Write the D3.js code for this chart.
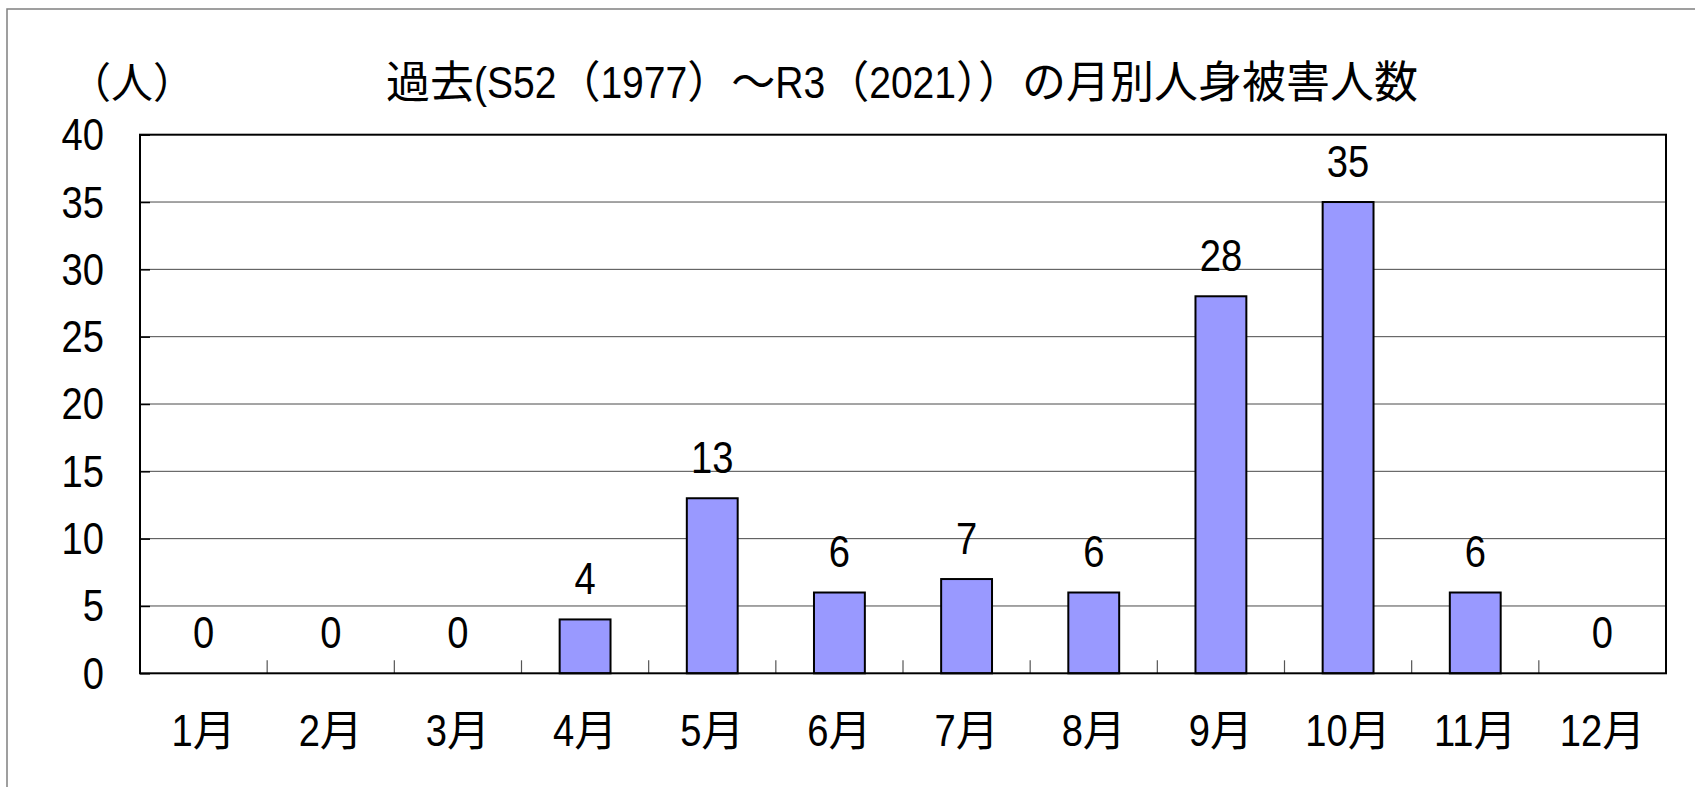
<!DOCTYPE html>
<html>
<head>
<meta charset="utf-8">
<script src="https://cdn.jsdelivr.net/npm/d3@7.9.0/dist/d3.min.js"></script>
<style>
  html, body { margin: 0; padding: 0; background: #fff; }
  svg { display: block; }
  text { fill: #000; }
</style>
</head>
<body>
<svg id="chart" width="1695" height="787"></svg>
<script>
// months and counts
const months = ["1月", "2月", "3月", "4月", "5月", "6月", "7月", "8月", "9月", "10月", "11月", "12月"];
const victims = [0, 0, 0, 4, 13, 6, 7, 6, 28, 35, 6, 0];
const yTicks = [0, 5, 10, 15, 20, 25, 30, 35, 40];
const title = "過去(S52（1977）～R3（2021））の月別人身被害人数";
const unitLabel = "（人）";

const W = 1695, H = 787;
const margin = { left: 140, right: W - 1666, top: 134.7, bottom: H - 673.3 };

const LATIN = "'Liberation Sans', Arial, sans-serif";
const CJK = "'Noto Sans CJK JP', sans-serif";
const narrowX = 0.87;   // the original font has tall, narrow digits

const svg = d3.select("#chart");

// split a string into runs of ascii (narrow) and CJK characters
function splitRuns(str) {
  const runs = [];
  for (const ch of str) {
    const narrow = ch.charCodeAt(0) < 128;
    const last = runs[runs.length - 1];
    if (last && last.narrow === narrow) last.t += ch;
    else runs.push({ t: ch, narrow });
  }
  return runs;
}

// place a mixed label; cy is the vertical centre of the glyphs
function mixedText(parent, str, x, cy, anchor, size) {
  const g = parent.append("g");
  const runs = splitRuns(str);
  const parts = runs.map(r => {
    const t = g.append("text")
      .attr("font-family", r.narrow ? LATIN : CJK)
      .attr("font-size", r.narrow ? size * 1.02 : size)
      .text(r.t);
    const w = t.node().getComputedTextLength() * (r.narrow ? narrowX : 1);
    return { t, w, narrow: r.narrow };
  });
  const total = d3.sum(parts, p => p.w);
  let cx = anchor === "middle" ? x - total / 2 : anchor === "end" ? x - total : x;
  const base = cy + size * 0.36;
  parts.forEach(p => {
    p.t.attr("transform", `translate(${cx},${base}) scale(${p.narrow ? narrowX : 1},1)`);
    cx += p.w;
  });
  return g;
}

// outer frame (runs off the right and bottom)
svg.append("rect")
  .attr("x", 7).attr("y", 9)
  .attr("width", W).attr("height", H)
  .attr("fill", "#fff")
  .attr("stroke", "#808080")
  .attr("stroke-width", 1.5);

const x = d3.scaleBand()
  .domain(months)
  .range([margin.left, W - margin.right])
  .paddingInner(0.6)
  .paddingOuter(0.3);

const y = d3.scaleLinear()
  .domain([0, 40])
  .range([H - margin.bottom, margin.top]);

// gridlines
svg.append("g")
  .selectAll("line")
  .data(yTicks.filter(d => d > 0 && d < 40))
  .join("line")
  .attr("x1", margin.left).attr("x2", W - margin.right)
  .attr("y1", d => y(d)).attr("y2", d => y(d))
  .attr("stroke", "#4a4a4a")
  .attr("stroke-width", 1);

// y axis ticks (inward) and labels
const yAxis = d3.axisLeft(y).tickValues(yTicks).tickSize(-10).tickFormat("");
const gy = svg.append("g")
  .attr("transform", `translate(${margin.left},0)`)
  .call(yAxis);
gy.select(".domain").remove();
gy.selectAll(".tick line").attr("stroke", "#000").attr("stroke-width", 1.5);
const yLab = svg.append("g");
yTicks.forEach(v => mixedText(yLab, String(v), 104, y(v), "end", 43));

// category tick marks on the bottom axis, at category boundaries
svg.append("g")
  .selectAll("line")
  .data(months.slice(1))
  .join("line")
  .attr("x1", m => x(m) + x.bandwidth() / 2 - x.step() / 2)
  .attr("x2", m => x(m) + x.bandwidth() / 2 - x.step() / 2)
  .attr("y1", y(0)).attr("y2", y(0) - 13)
  .attr("stroke", "#555")
  .attr("stroke-width", 1.2);

// bars
svg.append("g")
  .selectAll("rect")
  .data(victims)
  .join("rect")
  .attr("x", (d, i) => x(months[i]))
  .attr("y", d => y(d))
  .attr("width", x.bandwidth())
  .attr("height", d => y(0) - y(d))
  .attr("fill", "#9999FF")
  .attr("stroke", "#000")
  .attr("stroke-width", 2);

// plot border
svg.append("rect")
  .attr("x", margin.left).attr("y", margin.top)
  .attr("width", W - margin.left - margin.right)
  .attr("height", H - margin.top - margin.bottom)
  .attr("fill", "none")
  .attr("stroke", "#000")
  .attr("stroke-width", 2);

// value labels
const vLab = svg.append("g");
victims.forEach((v, i) =>
  mixedText(vLab, String(v), x(months[i]) + x.bandwidth() / 2, y(v) - 41, "middle", 43));

// x labels
const xLab = svg.append("g");
months.forEach(m => mixedText(xLab, m, x(m) + x.bandwidth() / 2, 731, "middle", 43));

// title and unit
mixedText(svg, title, 902, 82.5, "middle", 44);
mixedText(svg, unitLabel, 132, 83, "middle", 42);
</script>
</body>
</html>
